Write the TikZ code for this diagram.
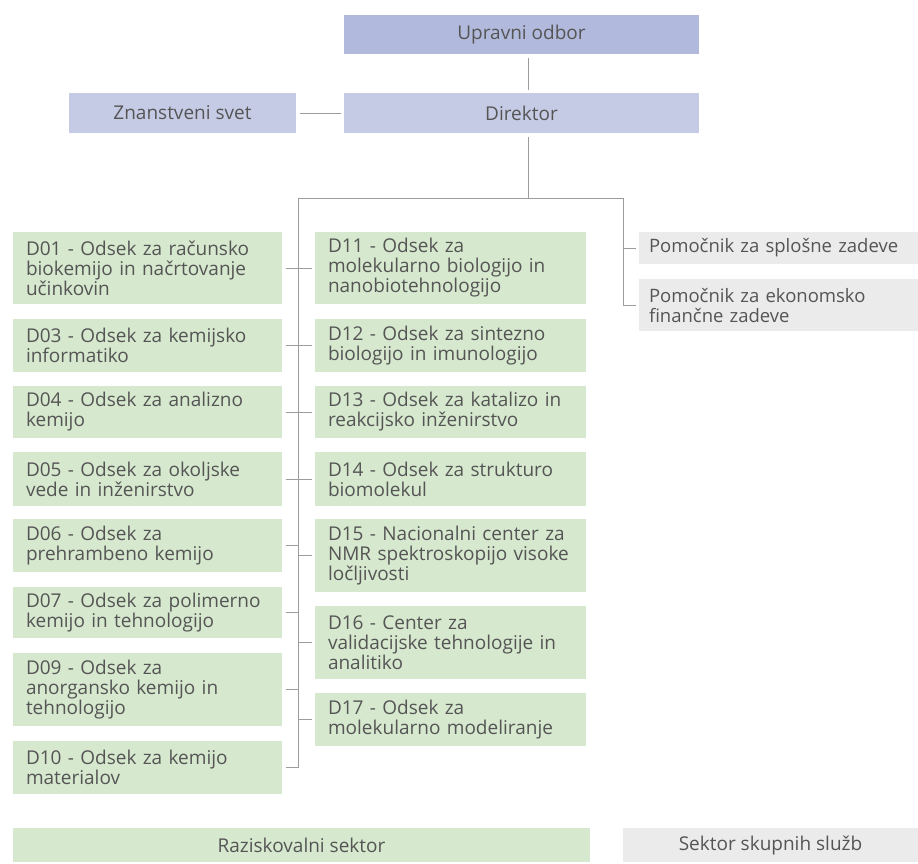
\documentclass[tikz,border=0pt]{standalone}
\usepackage{fontspec}
\setmainfont{Open Sans}
\usetikzlibrary{positioning,calc}
\definecolor{BoardBlue}{HTML}{B1BADC}
\definecolor{HeadBlue}{HTML}{C5CBE5}
\definecolor{DeptGreen}{HTML}{D6E8CE}
\definecolor{ServGrey}{HTML}{EBEBEB}
\definecolor{InkGrey}{HTML}{555555}
\definecolor{LineGrey}{HTML}{9C9C9C}

\begin{document}
\begin{tikzpicture}[x=1pt,y=-1pt,
  box/.style={inner sep=0pt,outer sep=3.5pt,text=InkGrey,font=\fontsize{19}{20}\selectfont},
  head/.style={box,fill=HeadBlue,minimum width=355pt,minimum height=40pt},
  dleft/.style={box,fill=DeptGreen,align=left,inner xsep=13pt,text width=243pt,minimum height=53pt},
  dright/.style={dleft,text width=245pt},
  aide/.style={box,fill=ServGrey,align=left,inner xsep=10pt,text width=259pt,font=\fontsize{18.5}{20}\selectfont},
  link/.style={draw=LineGrey,line width=1pt}]
  \useasboundingbox (0,0) rectangle (918,863);

  \node[head,fill=BoardBlue,minimum height=39pt] (uo) at (521.5,34.5) {Upravni odbor};
  \node[head] (dir) at (521.5,113) {Direktor};
  \node[head,minimum width=227pt] (zs) at (182.5,113) {Znanstveni svet};

  \coordinate (trunk) at (528,198);
  \coordinate (lbus) at (298,198);
  \coordinate (rbus) at (623,198);

  \node[dleft,minimum height=72pt] (d01) at (147.5,268) {D01 - Odsek za računsko\\biokemijo in načrtovanje\\učinkovin};
  \node[dleft] (d03) at (147.5,345.5) {D03 - Odsek za kemijsko\\informatiko};
  \node[dleft,minimum height=52pt] (d04) at (147.5,412) {D04 - Odsek za analizno\\kemijo};
  \node[dleft,minimum height=54pt] (d05) at (147.5,479) {D05 - Odsek za okoljske\\vede in inženirstvo};
  \node[dleft] (d06) at (147.5,545.5) {D06 - Odsek za\\prehrambeno kemijo};
  \node[dleft,minimum height=51pt] (d07) at (147.5,612.5) {D07 - Odsek za polimerno\\kemijo in tehnologijo};
  \node[dleft,minimum height=73pt] (d09) at (147.5,689.5) {D09 - Odsek za\\anorgansko kemijo in\\tehnologijo};
  \node[dleft] (d10) at (147.5,767.5) {D10 - Odsek za kemijo\\materialov};

  \node[dright,minimum height=72pt] (d11) at (450.5,268) {D11 - Odsek za\\molekularno biologijo in\\nanobiotehnologijo};
  \node[dright] (d12) at (450.5,345.5) {D12 - Odsek za sintezno\\biologijo in imunologijo};
  \node[dright,minimum height=52pt] (d13) at (450.5,412) {D13 - Odsek za katalizo in\\reakcijsko inženirstvo};
  \node[dright,minimum height=54pt] (d14) at (450.5,479) {D14 - Odsek za strukturo\\biomolekul};
  \node[dright,minimum height=73pt] (d15) at (450.5,555.5) {D15 - Nacionalni center za\\NMR spektroskopijo visoke\\ločljivosti};
  \node[dright,minimum height=73pt] (d16) at (450.5,642.5) {D16 - Center za\\validacijske tehnologije in\\analitiko};
  \node[dright] (d17) at (450.5,719.5) {D17 - Odsek za\\molekularno modeliranje};

  \node[aide,minimum height=32pt] (pp1) at (778.5,248) {Pomočnik za splošne zadeve};
  \node[aide,minimum height=52pt] (pp2) at (778.5,305) {Pomočnik za ekonomsko\\finančne zadeve};

  \node[box,fill=DeptGreen,minimum width=577pt,minimum height=34pt] (rs) at (301.5,845) {Raziskovalni sektor};
  \node[box,fill=ServGrey,minimum width=295pt,minimum height=34pt] (ss) at (770.5,845) {Sektor skupnih služb};

  \draw[link] (uo.south -| trunk) -- (dir.north -| trunk);
  \draw[link] (dir.south -| trunk) -- (trunk);
  \draw[link] (zs) -- (dir);
  \draw[link] (lbus) -- (rbus);
  \draw[link] (lbus) |- (d10);
  \draw[link] (rbus) |- (pp2);
  \draw[link] (pp1) -- (pp1 -| rbus);
  \foreach \n in {d01,d03,d04,d05,d06,d07,d09,d11,d12,d13,d14,d15,d16,d17}
    \draw[link] (\n) -- (\n -| lbus);
\end{tikzpicture}
\end{document}
